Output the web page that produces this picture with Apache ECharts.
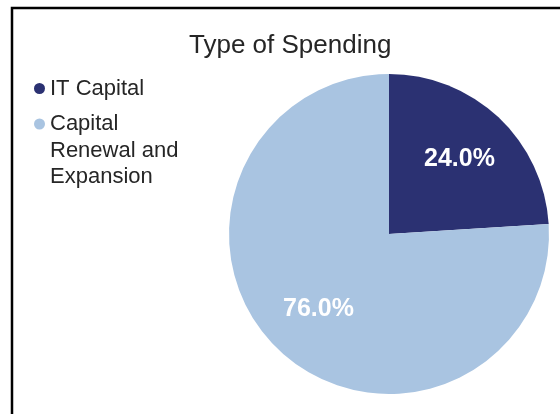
<!DOCTYPE html>
<html>
<head>
<meta charset="utf-8">
<script src="https://cdn.jsdelivr.net/npm/echarts@6/dist/echarts.min.js"></script>
<style>
  html, body { margin: 0; padding: 0; background: #ffffff; }
  #chart { width: 560px; height: 414px; }
</style>
</head>
<body>
<div id="chart"></div>
<script>
// ---- data ----
const chartTitle = 'Type of Spending';
const categories = ['IT Capital', 'Capital\nRenewal and\nExpansion'];
const values = [24.0, 76.0];
const sliceColors = ['#2B3172', '#A9C4E1'];

const FONT = '"Liberation Sans", Arial, sans-serif';
const pieData = categories.map((c, i) => ({ name: c, value: values[i], itemStyle: { color: sliceColors[i] } }));
const labelData = categories.map((c, i) => ({ name: c, value: values[i] }));

const chart = echarts.init(document.getElementById('chart'), null, { renderer: 'canvas' });
chart.setOption({
  backgroundColor: '#ffffff',
  animation: false,
  title: {
    text: chartTitle,
    left: 189,
    top: 33,
    padding: 0,
    textStyle: { fontFamily: FONT, fontSize: 26, fontWeight: 'normal', color: '#262626' }
  },
  legend: [
    {
      data: [categories[0]],
      orient: 'vertical',
      left: 34,
      top: 77.5,
      padding: 0,
      icon: 'circle',
      itemWidth: 11,
      itemHeight: 11,
      textStyle: { fontFamily: FONT, fontSize: 22, color: '#262626' }
    },
    {
      data: [categories[1]],
      orient: 'vertical',
      left: 34,
      top: 57.75,
      padding: 0,
      icon: 'circle',
      itemWidth: 11,
      itemHeight: 11,
      // two leading empty lines so the marker sits beside the first text line
      formatter: name => '\n\n' + name,
      textStyle: { fontFamily: FONT, fontSize: 22, color: '#262626', lineHeight: 26.5 }
    }
  ],
  graphic: [
    {
      type: 'polyline',
      silent: true,
      shape: { points: [[12, 414], [12, 8], [560, 8]] },
      style: { stroke: '#000000', lineWidth: 2.5, fill: null }
    }
  ],
  series: [
    {
      type: 'pie',
      center: [389, 234],
      radius: 160,
      startAngle: 90,
      clockwise: true,
      silent: true,
      label: { show: false },
      labelLine: { show: false },
      data: pieData
    },
    {
      type: 'pie',
      center: [389, 234],
      radius: [40, 160],
      startAngle: 90,
      clockwise: true,
      silent: true,
      legendHoverLink: false,
      itemStyle: { color: 'rgba(0,0,0,0)' },
      label: {
        show: true,
        position: 'inside',
        formatter: p => p.value.toFixed(1) + '%',
        fontFamily: FONT,
        fontSize: 25,
        fontWeight: 'bold',
        color: '#ffffff'
      },
      labelLine: { show: false },
      data: labelData
    }
  ]
});
</script>
</body>
</html>
